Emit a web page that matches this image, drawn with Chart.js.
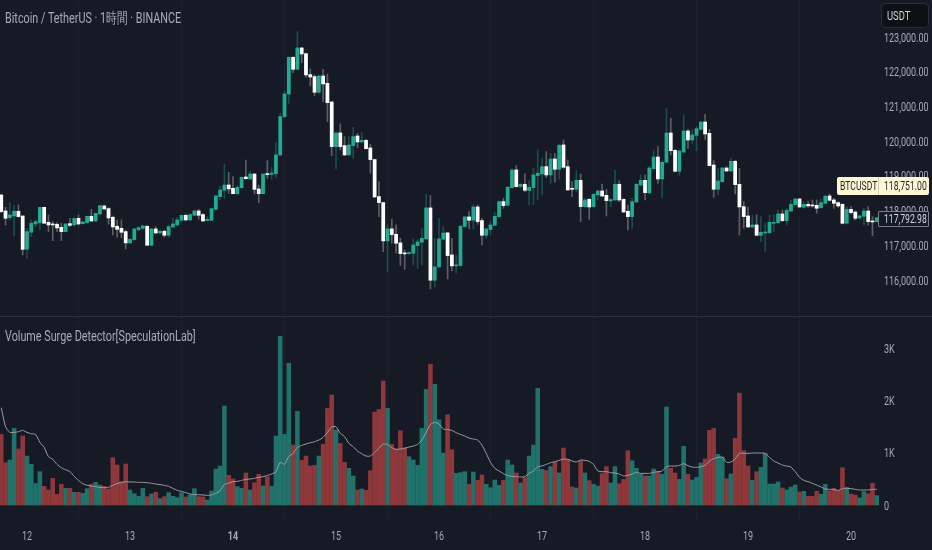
<!DOCTYPE html>
<html>
<head>
<meta charset="utf-8">
<script src="https://cdn.jsdelivr.net/npm/chart.js@4"></script>
<style>
  html, body { margin: 0; padding: 0; background: #161a25; overflow: hidden; }
  #wrap { position: relative; width: 932px; height: 550px; font-family: Roboto, sans-serif; }
  canvas { position: absolute; left: 0; top: 0; }
  .narrow { display: inline-block; transform: scaleX(0.72); transform-origin: left center; white-space: nowrap; }
  .legend { position: absolute; left: 5px; color: #a8abb5; font-size: 15px; white-space: nowrap; }
  #paneLine { position: absolute; left: 0; top: 316px; width: 932px; height: 1px; background: #2a2e39; }
  #unitBox { position: absolute; left: 881px; top: 3px; width: 48px; height: 25px; line-height: 25px; box-sizing: border-box;
    background: #0e1015; border: 1px solid #2a2e39; border-radius: 4px; color: #d1d4dc; font-size: 13px; padding-left: 5px; line-height: 23px; }
  .tag { position: absolute; font-size: 12px; white-space: nowrap; box-sizing: border-box; }
  .tag span.narrow { position: absolute; top: 0; }
  #symbolTag { left: 837px; width: 92px; height: 18px; line-height: 18px; background: #fff6d5; color: #1c1f28; border-radius: 2px; }
  #symbolDivider { position: absolute; left: 41px; top: 0; width: 1px; height: 18px; background: #d8cfae; }
  #lastTag { left: 878px; width: 51px; height: 16px; line-height: 14px; background: #161a25; border: 1px solid #7c7f88; border-radius: 1px; color: #d1d4dc; }
</style>
</head>
<body>
<div id="wrap">
  <canvas id="chart" width="932" height="550"></canvas>
  <div id="paneLine"></div>
  <div class="legend" style="top:9px"><span class="narrow">Bitcoin / TetherUS · 1時間 · BINANCE</span></div>
  <div class="legend" style="top:327px"><span class="narrow">Volume Surge Detector[SpeculationLab]</span></div>
  <div id="unitBox"><span class="narrow">USDT</span></div>
  <div class="tag" id="symbolTag"><span class="narrow" style="left:3px">BTCUSDT</span><div id="symbolDivider"></div><span class="narrow" style="left:47px">118,751.00</span></div>
  <div class="tag" id="lastTag"><span class="narrow" style="left:5px">117,792.98</span></div>
</div>
<script>
const opens = [
  118449,117988,117796,117844,117979,117844,116884,117374,117614,117652,
  118094,117662,117614,117604,117518,117393,117623,117585,117777,117623,
  117652,117835,117700,117902,118132,118056,117806,117547,117489,117393,
  117067,117163,117451,117489,117547,117000,117470,117355,117403,117288,
  117527,117585,117719,117863,117729,117863,117988,117883,117710,117719,
  118036,118401,118583,118737,118641,118487,118660,118967,118910,119054,
  118622,118487,119063,119044,119064,119602,120706,121359,122415,122069,
  122684,122520,121916,121858,121407,121877,121666,121128,119842,120236,
  119871,119602,119871,120149,119976,120024,119804,119468,118402,118229,
  117125,117471,117317,117068,116780,116761,116770,116991,117087,117183,
  118076,115992,116376,117173,117356,116722,116405,116415,117538,117816,
  117720,118104,117711,117288,117452,117576,117826,118258,118153,118661,
  119170,118690,118757,118575,118661,119007,119055,119266,119026,119487,
  119189,119890,119266,118641,118612,118871,118113,118324,118113,118449,
  118564,118439,118276,118305,118756,118324,117979,117825,118247,118737,
  118871,118507,119207,119543,118910,119390,120235,119735,119130,119687,
  120292,120033,120167,120340,120551,120225,119313,118612,118833,119227,
  119140,119419,118756,118113,117844,117527,117585,117287,117354,117364,
  117633,117652,117902,117710,117988,118170,118334,118094,118180,118161,
  118151,118084,118209,118420,118305,118228,118180,117633,118036,117959,
  117786,117835,117988,117700,117681
];
const closes = [
  117969,117777,117873,117979,117825,116884,117393,117633,117681,118094,
  117633,117585,117585,117499,117393,117614,117575,117767,117614,117671,
  117835,117700,117921,118142,118046,117787,117527,117460,117374,117067,
  117172,117470,117508,117556,117000,117470,117355,117403,117288,117537,
  117614,117729,117863,117729,117883,117988,117863,117700,117748,118056,
  118420,118593,118737,118622,118487,118670,118958,118919,119054,118612,
  118487,119054,119035,119083,119602,120706,121359,122415,122069,122684,
  122511,121906,121848,121407,121877,121647,121109,119842,120236,119842,
  119602,119890,120130,119976,120024,119784,119468,118392,118229,117125,
  117471,117308,117058,116761,116751,116789,117010,117096,117202,118076,
  115992,116376,117183,117356,116703,116405,116434,117548,117816,117720,
  118104,117682,117288,117471,117586,117836,118258,118143,118671,119170,
  118690,118757,118584,118671,119026,119074,119266,119026,119487,119189,
  119880,119247,118594,118612,118871,118113,118305,118104,118468,118564,
  118420,118286,118315,118756,118305,117959,117825,118257,118756,118871,
  118516,119227,119543,118910,119390,120235,119726,119130,119716,120292,
  120033,120177,120359,120551,120206,119294,118612,118852,119227,119140,
  119419,118747,118103,117825,117527,117585,117287,117374,117383,117662,
  117662,117902,117710,118007,118180,118334,118103,118180,118132,118132,
  118065,118228,118411,118295,118209,118132,117633,118036,117940,117777,
  117844,117988,117681,117671,117792.98
];
const highs = [
  118470,118094,118228,118161,118161,117844,117489,117729,117729,118094,
  118094,117873,117681,117652,117633,117633,117777,117806,117873,117700,
  117844,118036,117921,118161,118161,118084,117844,117729,117729,117441,
  117201,117489,117537,117585,117566,117489,117537,117441,117441,117585,
  117777,117806,117873,117902,117902,118017,118036,117921,117825,118075,
  118439,118689,119342,119102,118977,118737,118977,119457,119121,119054,
  118737,119054,119438,119246,119967,120802,121445,122434,122434,123154,
  122703,122540,122079,121906,121906,122069,121935,121138,120255,120495,
  120130,120130,120399,120226,120255,120053,119909,119487,118834,118239,
  117586,117749,117586,117202,116866,116818,117202,117154,117490,118469,
  118431,117202,117778,117538,117375,117202,116722,117567,117836,117970,
  118162,118162,117778,117490,117682,117951,118277,118354,118690,119199,
  119295,118786,119055,118863,119218,119746,119506,119698,119650,119650,
  119909,120034,119458,118833,119150,119054,118353,118353,118497,118593,
  118766,118612,118353,119169,118862,118353,118161,118353,118785,119025,
  119025,119265,119745,119841,119428,120945,120657,119764,119745,120753,
  120340,120321,120417,120571,120772,120340,119438,119217,119246,119265,
  119505,119438,119217,118257,118094,117873,117873,117825,117633,117873,
  117873,118017,118017,118065,118305,118353,118353,118257,118276,118305,
  118305,118324,118449,118478,118353,118257,118199,118113,118113,117988,
  117873,118065,118113,117825,117806
];
const lows = [
  117940,117585,117729,117268,117806,116721,116625,117249,117537,117441,
  117633,117393,117134,117393,117134,117393,117537,117556,117585,117614,
  117633,117681,117681,117873,118017,117604,117297,117230,117220,116894,
  117057,117134,117422,117460,117000,116980,117326,117326,117230,117230,
  117489,117556,117681,117710,117710,117844,117748,117681,117700,117710,
  118017,118305,118353,118497,118478,118449,118641,118900,118900,118478,
  118228,118478,118929,118900,118949,119583,120677,121090,121973,122050,
  122261,121839,121589,121311,121378,121138,120562,119583,119199,119746,
  119583,119583,119506,119813,119967,119765,119074,118373,117826,116818,
  116242,117058,116770,116415,116309,116722,116434,116338,116434,117183,
  115743,115810,116357,117154,116030,116261,116194,116396,117528,117471,
  117471,117605,117010,117202,117298,117567,117807,118066,118133,118642,
  118671,118642,118546,118162,118181,118306,118450,118949,118786,118815,
  118911,119218,118575,118401,118545,117681,118094,117748,118094,118305,
  118401,117844,118113,118286,118257,117940,117441,117489,118228,118708,
  118305,118497,119188,118785,118372,119380,119601,119111,119015,119668,
  119793,119918,119726,120321,120052,119284,118381,118449,118814,119121,
  119121,118478,117297,117489,117508,117508,117268,117105,116817,117345,
  117393,117633,117681,117585,117969,118151,118084,118065,118094,118094,
  117921,118065,118190,118276,118065,118094,117614,117614,117902,117729,
  117767,117585,117585,117277,117662
];
const volumes = [
  1350,809,860,1465,1070,1319,936,777,408,637,
  357,287,510,204,395,318,318,242,242,223,
  312,395,433,382,357,306,905,764,446,784,
  287,217,166,318,159,210,242,121,159,236,
  166,140,236,153,191,312,159,153,96,268,
  688,745,1892,567,497,350,318,612,287,427,
  586,363,541,357,1319,3223,1350,2707,1147,1790,
  854,936,745,758,936,1159,1847,2102,1433,1178,
  815,701,554,287,306,280,656,1777,1828,2370,
  1847,1159,1070,1421,1096,924,860,758,1465,2210,
  2688,2306,1631,994,1726,1057,605,618,637,395,
  631,471,573,395,331,478,376,471,860,764,
  612,420,522,936,1147,2230,682,656,733,815,
  612,1089,873,344,325,847,612,465,395,363,
  599,733,420,733,408,490,1038,847,701,592,
  554,554,688,637,586,1873,701,612,490,1121,
  586,478,529,803,879,1427,1465,968,917,503,
  592,1274,2140,1038,745,471,637,720,987,401,
  401,440,325,287,344,382,248,261,166,166,
  261,204,395,274,318,280,713,338,210,191,
  134,255,217,414,178
];
const volumeAverage = [
  1860,1497,1389,1389,1401,1427,1389,1363,1350,1198,
  1102,924,873,777,713,675,637,548,471,408,
  376,363,350,338,331,338,376,408,427,446,
  440,440,433,433,427,414,401,389,376,357,
  318,280,261,236,210,197,197,191,185,191,
  223,274,395,420,446,452,471,490,497,510,
  529,541,567,592,631,815,777,930,987,1102,
  1140,1166,1191,1210,1242,1293,1389,1491,1497,1370,
  1306,1178,1115,1032,981,936,936,1006,1083,1166,
  1159,1096,1064,1070,1083,1108,1127,1159,1242,1389,
  1541,1580,1548,1452,1440,1427,1382,1350,1319,1280,
  1261,1242,1147,987,815,701,650,599,561,548,
  541,535,541,605,650,733,745,777,809,828,
  854,879,873,841,822,860,854,834,777,650,
  637,637,618,612,592,554,567,592,624,605,
  605,605,624,637,650,733,745,745,758,790,
  752,726,720,733,758,841,885,911,917,815,
  822,879,987,987,987,994,994,994,987,911,
  841,803,764,745,726,637,529,471,446,414,
  382,344,306,299,293,280,312,318,312,299,
  287,287,287,299,299
];
const dayLabels = ["12", "13", "14", "15", "16", "17", "18", "19", "20"];
const dayStarts = [6, 30, 54, 78, 102, 126, 150, 174, 198];
const priceTicks = [116000, 117000, 118000, 119000, 120000, 121000, 122000, 123000];
const volumeTicks = [0, 1000, 2000, 3000];
const symbolPrice = 118751;
const lastPrice = 117792.98;

const upColor = "#22ab94";
const downColor = "#ffffff";

const isUp = opens.map((o, i) => closes[i] >= o);
const candleColors = isUp.map((up) => (up ? upColor : downColor));
const wickColors = isUp.map((up) => (up ? "rgba(34,171,148,0.35)" : "rgba(255,255,255,0.3)"));
const volumeFill = isUp.map((up) => (up ? "#22726c" : "#8e383b"));

// the tick labels are squeezed sideways like the TradingView font, so they are drawn here
const drawTick = (ctx, text, x, y, align, weight) => {
  ctx.save();
  ctx.translate(x, y);
  ctx.scale(0.72, 1);
  ctx.font = weight + " 12.5px Roboto, sans-serif";
  ctx.fillStyle = "#a8abb5";
  ctx.textAlign = align;
  ctx.textBaseline = "middle";
  ctx.fillText(text, 0, 0);
  ctx.restore();
};

const tickLabels = {
  id: "tickLabels",
  afterDraw(chart) {
    const { ctx, scales } = chart;
    scales.x.ticks.forEach((tick) => {
      const weight = tick.label === "14" ? "bold" : "normal";
      drawTick(ctx, tick.label, scales.x.getPixelForValue(tick.value), 537, "center", weight);
    });
    scales.yPrice.ticks.forEach((tick) => {
      drawTick(ctx, tick.label, 884, scales.yPrice.getPixelForValue(tick.value) + 1.5, "left", "normal");
    });
    scales.yVolume.ticks.forEach((tick) => {
      drawTick(ctx, tick.label, 884, scales.yVolume.getPixelForValue(tick.value) + 1.5, "left", "normal");
    });
  },
};

const chart = new Chart(document.getElementById("chart"), {
  type: "bar",
  plugins: [tickLabels],
  data: {
    datasets: [
      {
        label: "Average",
        type: "line",
        data: volumeAverage.map((y, x) => ({ x, y })),
        yAxisID: "yVolume",
        borderColor: "#9da0a8",
        borderWidth: 1,
        pointRadius: 0,
        tension: 0.2,
        order: 1,
      },
      {
        label: "Body",
        data: opens.map((o, x) => ({ x, y: [o, closes[x]] })),
        yAxisID: "yPrice",
        backgroundColor: candleColors,
        barThickness: 3.1,
        minBarLength: 1,
        grouped: false,
        order: 2,
      },
      {
        label: "Wick",
        data: lows.map((l, x) => ({ x, y: [l, highs[x]] })),
        yAxisID: "yPrice",
        backgroundColor: wickColors,
        barThickness: 1,
        grouped: false,
        order: 3,
      },
      {
        label: "Volume",
        data: volumes.map((y, x) => ({ x, y })),
        yAxisID: "yVolume",
        backgroundColor: volumeFill,
        barThickness: 3.9,
        grouped: false,
        order: 4,
      },
    ],
  },
  options: {
    responsive: false,
    animation: false,
    layout: { padding: 0 },
    plugins: { legend: { display: false }, tooltip: { enabled: false } },
    scales: {
      x: {
        type: "linear",
        offset: false,
        min: -0.29,
        max: 204.75,
        afterBuildTicks: (scale) => {
          scale.ticks = dayStarts.map((value) => ({ value }));
        },
        afterFit: (scale) => {
          scale.height = 29;
        },
        grid: { color: "#1c202b", drawTicks: false },
        border: { display: false },
        ticks: {
          display: false,
          autoSkip: false,
          callback: (value) => dayLabels[dayStarts.indexOf(value)],
        },
      },
      yVolume: {
        position: "right",
        weight: 0,
        min: -306,
        max: 9656,
        afterBuildTicks: (scale) => {
          scale.ticks = volumeTicks.map((value) => ({ value }));
        },
        afterFit: (scale) => {
          scale.width = 0;
        },
        grid: { display: false },
        border: { display: false },
        ticks: {
          display: false,
          callback: (value) => (value === 0 ? "0" : value / 1000 + "K"),
        },
      },
      yPrice: {
        position: "right",
        weight: 1,
        min: 109056,
        max: 124066,
        afterBuildTicks: (scale) => {
          scale.ticks = priceTicks.map((value) => ({ value }));
        },
        afterFit: (scale) => {
          scale.width = 52;
        },
        grid: { display: false },
        border: { display: false },
        ticks: {
          display: false,
          callback: (value) => value.toLocaleString("en-US", { minimumFractionDigits: 2 }),
        },
      },
    },
  },
});

// price tags follow the price scale
const priceScale = chart.scales.yPrice;
document.getElementById("symbolTag").style.top = priceScale.getPixelForValue(symbolPrice) - 7.5 + "px";
document.getElementById("lastTag").style.top = priceScale.getPixelForValue(lastPrice) - 7 + "px";
</script>
</body>
</html>
